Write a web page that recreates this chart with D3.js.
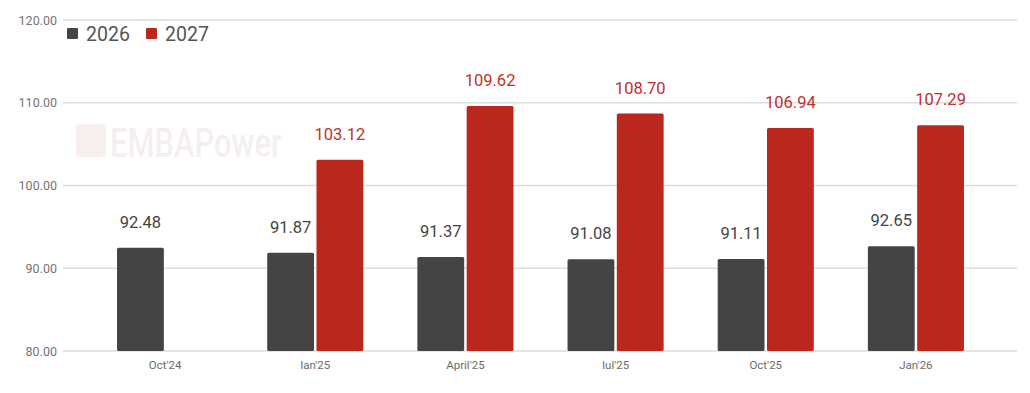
<!DOCTYPE html>
<html>
<head>
<meta charset="utf-8">
<script src="https://cdn.jsdelivr.net/npm/d3@7"></script>
<style>
  body { margin: 0; background: #fff; }
  svg { font-family: Roboto, "Noto Sans", sans-serif; }
</style>
</head>
<body>
<svg id="chart" width="1030" height="393"></svg>
<script>
// chart data
var categories = ["Oct'24", "Ian'25", "April'25", "Iul'25", "Oct'25", "Jan'26"];
var seriesNames = ["2026", "2027"];
var values2026 = [92.48, 91.87, 91.37, 91.08, 91.11, 92.65];
var values2027 = [null, 103.12, 109.62, 108.70, 106.94, 107.29];
var yTicks = [80, 90, 100, 110, 120];

var COLORS = ["#444444", "#bb271d"];
var LABEL_COLORS = ["#444444", "#c0302a"];

var svg = d3.select("#chart");

var yScale = d3.scaleLinear().domain([80, 120]).range([351, 20]);
var xScale = d3.scaleBand().domain(categories).range([90, 991]).paddingInner(0.36).paddingOuter(0.18);
var xInner = d3.scaleBand().domain(seriesNames).range([0, xScale.bandwidth()]).paddingInner(0.05);

// watermark (faint logo)
var wm = svg.append("g");
wm.append("rect").attr("x", 76).attr("y", 124).attr("width", 30).attr("height", 33).attr("rx", 3).attr("fill", "#f8eeee");
wm.append("text").attr("transform", "translate(110,157) scale(1,1.35)")
  .attr("font-size", 30).attr("font-weight", 500).attr("fill", "#f5efef")
  .attr("textLength", 172).attr("lengthAdjust", "spacingAndGlyphs")
  .text("EMBAPower");

// gridlines + y labels
svg.append("g").selectAll("line").data(yTicks).enter().append("line")
  .attr("x1", 63).attr("x2", 1017)
  .attr("y1", function(d) { return yScale(d); })
  .attr("y2", function(d) { return yScale(d); })
  .attr("stroke", "#dddddd").attr("stroke-width", 1.5);

svg.append("g").selectAll("text").data(yTicks).enter().append("text")
  .attr("x", 57).attr("y", function(d) { return yScale(d) + 4.5; })
  .attr("text-anchor", "end").attr("font-size", 12.5).attr("fill", "#757575")
  .text(function(d) { return d.toFixed(2); });

// x labels
svg.append("g").selectAll("text").data(categories).enter().append("text")
  .attr("x", function(d) { return xScale(d) + xScale.bandwidth() / 2; })
  .attr("y", 369).attr("text-anchor", "middle").attr("font-size", 11.5).attr("fill", "#6b6b6b")
  .text(function(d) { return d; });

// bars
var rows = [];
categories.forEach(function(c, i) {
  rows.push({cat: c, s: 0, v: values2026[i]});
  rows.push({cat: c, s: 1, v: values2027[i]});
});
rows = rows.filter(function(r) { return r.v != null; });

svg.append("g").selectAll("rect").data(rows).enter().append("rect")
  .attr("x", function(d) { return xScale(d.cat) + xInner(seriesNames[d.s]); })
  .attr("y", function(d) { return yScale(d.v); })
  .attr("width", xInner.bandwidth())
  .attr("height", function(d) { return yScale(80) - yScale(d.v); })
  .attr("rx", 1.5)
  .attr("fill", function(d) { return COLORS[d.s]; });

svg.append("g").selectAll("text").data(rows).enter().append("text")
  .attr("x", function(d) { return xScale(d.cat) + xInner(seriesNames[d.s]) + xInner.bandwidth() / 2; })
  .attr("y", function(d) { return yScale(d.v) - 20; })
  .attr("text-anchor", "middle").attr("font-size", 16.5)
  .attr("fill", function(d) { return LABEL_COLORS[d.s]; })
  .text(function(d) { return d.v.toFixed(2); });

// legend
var legendX = [67, 146];
seriesNames.forEach(function(name, i) {
  svg.append("rect").attr("x", legendX[i]).attr("y", 28).attr("width", 11).attr("height", 11)
    .attr("rx", 1).attr("fill", COLORS[i]);
  svg.append("text").attr("x", legendX[i] + 19).attr("y", 40.5)
    .attr("font-size", 19.5).attr("fill", "#555555").text(name);
});
</script>
</body>
</html>
